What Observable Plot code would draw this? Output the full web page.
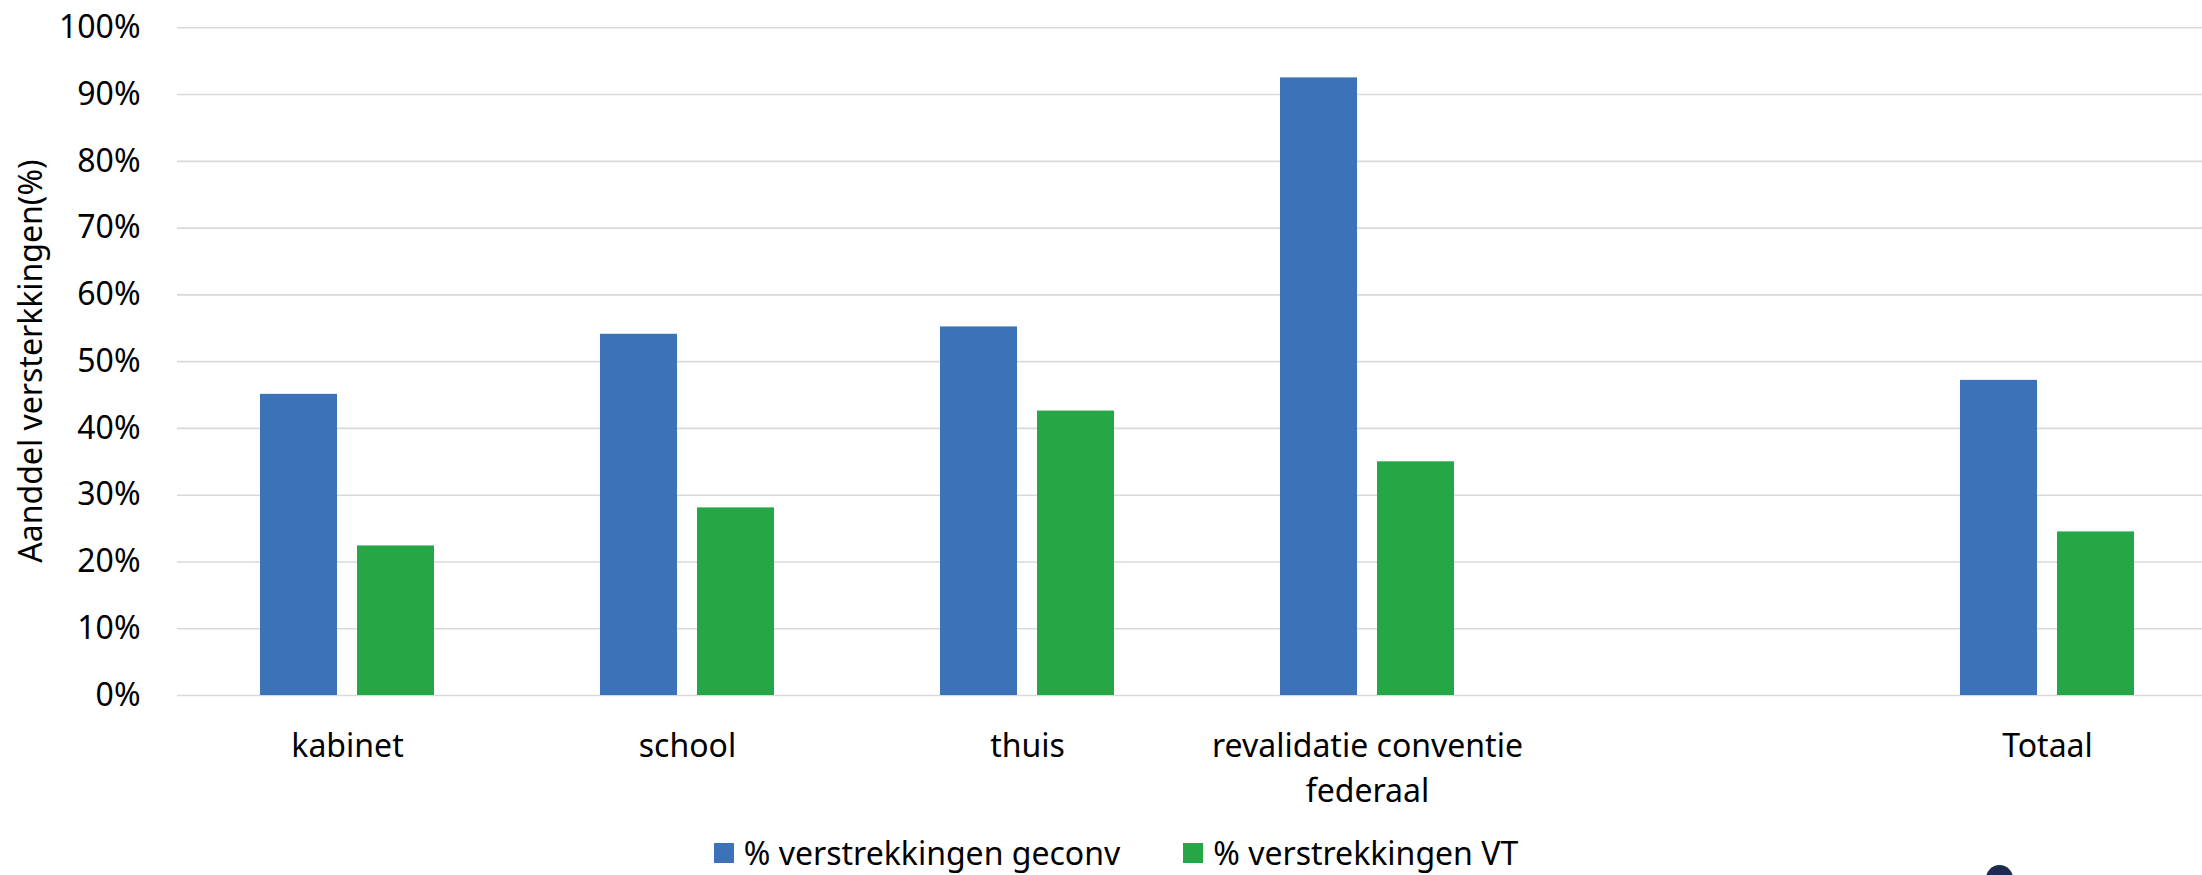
<!DOCTYPE html>
<html>
<head>
<meta charset="utf-8">
<script src="https://cdn.jsdelivr.net/npm/d3@7"></script>
<script src="https://cdn.jsdelivr.net/npm/@observablehq/plot@0.6"></script>
<style>
  html, body { margin: 0; padding: 0; background: #fff; overflow: hidden; width: 2202px; height: 875px; }
  #wrap { position: relative; width: 2202px; height: 875px; overflow: hidden; font-family: "Noto Sans", sans-serif; }
  #chart { width: 2202px; overflow: hidden; }
  #chart svg { display: block; max-width: none; }
  #ylabel { position: absolute; left: 30px; top: 361px; width: 600px; margin-left: -300px; margin-top: -16px; height: 32px; line-height: 32px; text-align: center; font-size: 32px; color: #000; transform: rotate(-90deg); white-space: nowrap; }
  #legend { position: absolute; top: 837px; left: 0; width: 2202px; display: flex; justify-content: center; align-items: center; gap: 63px; font-size: 32px; line-height: 32px; color: #000; padding-left: 30px; box-sizing: border-box; }
  .item { display: flex; align-items: center; gap: 10px; }
  .sw { width: 20px; height: 20px; display: inline-block; }
  #dot { position: absolute; left: 1986px; top: 865px; width: 27px; height: 27px; border-radius: 50%; background: #1e2a52; }
</style>
</head>
<body>
<div id="wrap">
  <div id="chart"></div>
  <div id="ylabel"></div>
  <div id="legend"></div>
  <div id="dot"></div>
</div>
<script>
const categories = ["kabinet", "school", "thuis", "revalidatie conventie federaal", "(leeg)", "Totaal"];
const categoryLabels = ["kabinet", "school", "thuis", "revalidatie conventie\nfederaal", "", "Totaal"];
const seriesNames = ["% verstrekkingen geconv", "% verstrekkingen VT"];
const seriesColors = ["#3c72b8", "#26a746"];
const geconvValues = [0.451, 0.541, 0.552, 0.925, null, 0.472];
const vtValues = [0.224, 0.281, 0.426, 0.350, null, 0.245];
const yTicks = [0, 0.1, 0.2, 0.3, 0.4, 0.5, 0.6, 0.7, 0.8, 0.9, 1.0];
const yLabel = "Aanddel versterkkingen(%)";

const rows = [];
categories.forEach((c, i) => {
  if (geconvValues[i] != null) rows.push({cat: c, series: seriesNames[0], value: geconvValues[i]});
  if (vtValues[i] != null) rows.push({cat: c, series: seriesNames[1], value: vtValues[i]});
});
const grid = [];
categories.forEach(c => yTicks.forEach(t => grid.push({cat: c, t})));

const chart = Plot.plot({
  width: 2217,
  height: 825,
  marginTop: 27,
  marginBottom: 130,
  marginLeft: 177,
  marginRight: 0,
  facet: {marginTop: 0, marginRight: 0, marginBottom: 0, marginLeft: 0},
  style: {fontFamily: "Noto Sans", fontSize: "32px", color: "#000", background: "#fff", maxWidth: "none"},
  fx: {domain: categories, padding: 0, range: [177, 2217]},
  x: {domain: seriesNames, paddingInner: 0.206, paddingOuter: 0.855, axis: null},
  y: {domain: [0, 1], range: [695, 27.3]},
  color: {domain: seriesNames, range: seriesColors},
  marks: [
    Plot.ruleY(grid, {y: "t", fx: "cat", stroke: "#d9d9d9", strokeWidth: 1.6}),
    Plot.barY(rows, {fx: "cat", x: "series", y: "value", fill: "series"}),
    Plot.axisY({ticks: yTicks, tickFormat: d3.format(".0%"), tickSize: 0, tickPadding: 37,
      label: null, fontSize: 32}),
    Plot.axisFx({anchor: "bottom", tickSize: 0, tickPadding: 30, label: null, lineHeight: 1.4,
      tickFormat: d => categoryLabels[categories.indexOf(d)], fontSize: 32})
  ]
});
document.getElementById("chart").appendChild(chart);
document.getElementById("ylabel").textContent = yLabel;

const legend = document.getElementById("legend");
seriesNames.forEach((s, i) => {
  const it = document.createElement("div");
  it.className = "item";
  const sw = document.createElement("span");
  sw.className = "sw";
  sw.style.background = seriesColors[i];
  const tx = document.createElement("span");
  tx.textContent = s;
  it.appendChild(sw); it.appendChild(tx);
  legend.appendChild(it);
});
</script>
</body>
</html>
